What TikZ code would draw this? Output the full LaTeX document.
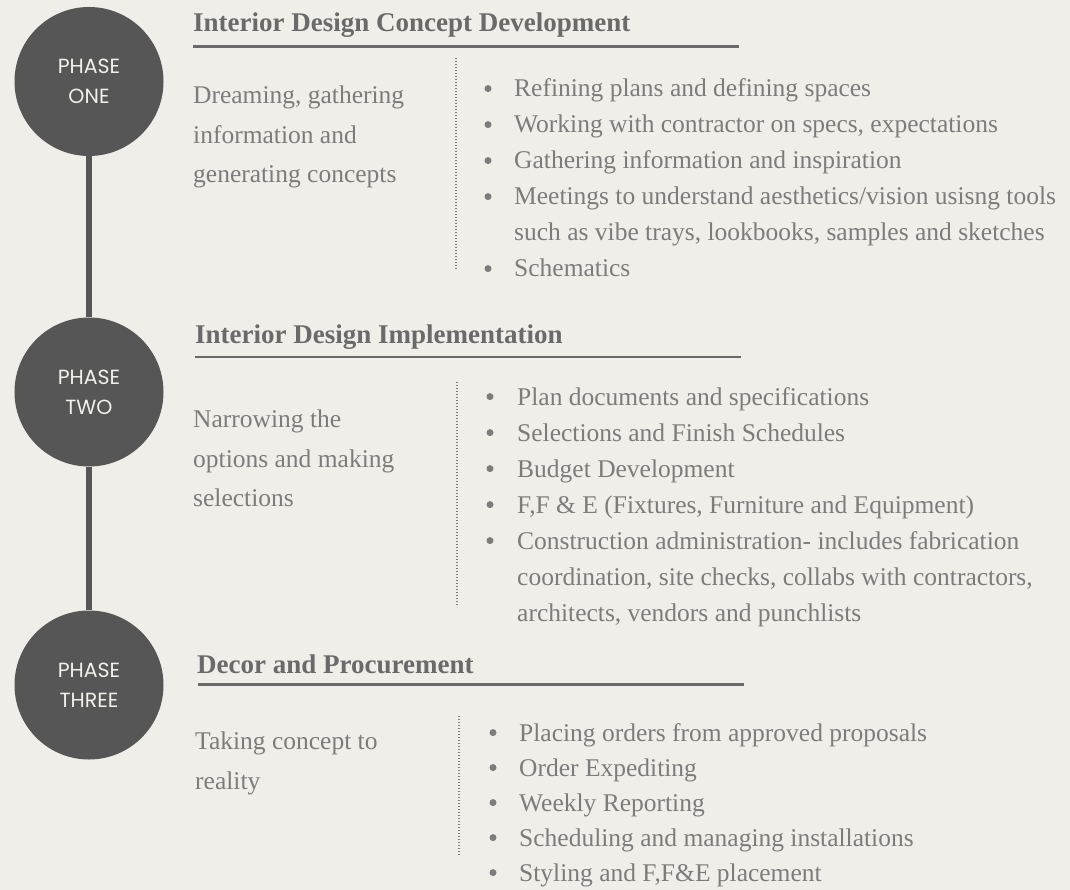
\documentclass[tikz,border=0pt]{standalone}
\usepackage{fontspec}
\setmainfont{Liberation Serif}
\newfontfamily\phasefont{Poppins}
\usetikzlibrary{positioning}

\definecolor{paper}{HTML}{EFEEE8}
\definecolor{disc}{HTML}{565656}
\definecolor{disctext}{HTML}{F1F0EB}
\definecolor{headgray}{HTML}{6A6A6A}
\definecolor{bodygray}{HTML}{7C7C7C}

\begin{document}
\begin{tikzpicture}[x=1pt, y=-1pt,
    phasedisc/.style={circle, fill=disc, minimum size=149pt, inner sep=0pt,
      text=disctext, align=center, font=\phasefont\fontsize{20.5}{30}\selectfont},
    spine/.style={draw=disc, line width=6pt},
    heading/.style={anchor=base west, inner sep=0pt, text=headgray,
      font=\bfseries\fontsize{27}{32}\selectfont},
    headrule/.style={draw=headgray, line width=2.5pt},
    summary/.style={anchor=north west, inner sep=0pt, align=left, text=bodygray,
      font=\fontsize{25.5}{39.5}\selectfont},
    bullettext/.style={anchor=base west, inner sep=0pt, text=bodygray,
      font=\fontsize{25.5}{36}\selectfont},
    bulletdot/.style={circle, fill=bodygray, inner sep=0pt, minimum size=7pt},
    divider/.style={draw=bodygray, line width=1.3pt, dash pattern=on 1.3pt off 1.7pt}]

  \useasboundingbox (0,0) rectangle (1070,890);
  \fill[paper] (0,0) rectangle (1070,890);

  % timeline
  \node[phasedisc] (p1) at (89,81.5) {PHASE\\ONE};
  \node[phasedisc] (p2) at (89,392) {PHASE\\TWO};
  \node[phasedisc] (p3) at (89,685) {PHASE\\THREE};
  \draw[spine] (p1) -- (p2);
  \draw[spine] (p2) -- (p3);

  % phase one
  \node[heading] (h1) at (193,32) {Interior Design Concept Development};
  \draw[headrule] (193,46.5) -- (739,46.5);
  \node[summary] (d1) at (193,86) {Dreaming, gathering\\information and\\generating concepts};
  \draw[divider] (456,58) -- (456,270);
  \foreach \txt/\hasdot [count=\i from 0] in {
      Refining plans and defining spaces/1,
      {Working with contractor on specs, expectations}/1,
      Gathering information and inspiration/1,
      {Meetings to understand aesthetics/vision usisng tools}/1,
      {such as vibe trays, lookbooks, samples and sketches}/0,
      Schematics/1} {
    \node[bullettext] (s1-t\i) at (514,{97+36*\i}) {\txt};
    \ifnum\hasdot=1 \node[bulletdot] (s1-d\i) at (488,{88.6+36*\i}) {};\fi
  }

  % phase two
  \node[heading] (h2) at (195,343) {Interior Design Implementation};
  \draw[headrule] (195,357) -- (741,357);
  \node[summary] (d2) at (193,410) {Narrowing the\\options and making\\selections};
  \draw[divider] (457,382) -- (457,607);
  \foreach \txt/\hasdot [count=\i from 0] in {
      Plan documents and specifications/1,
      Selections and Finish Schedules/1,
      Budget Development/1,
      {F,F \& E (Fixtures, Furniture and Equipment)}/1,
      Construction administration- includes fabrication/1,
      {coordination, site checks, collabs with contractors,}/0,
      {architects, vendors and punchlists}/0} {
    \node[bullettext] (s2-t\i) at (517,{405+36*\i}) {\txt};
    \ifnum\hasdot=1 \node[bulletdot] (s2-d\i) at (490,{396.6+36*\i}) {};\fi
  }

  % phase three
  \node[heading] (h3) at (197,673) {Decor and Procurement};
  \draw[headrule] (198,684.5) -- (744,684.5);
  \node[summary] (d3) at (195,732) {Taking concept to\\reality};
  \draw[divider] (459,716) -- (459,856);
  \foreach \txt/\hasdot [count=\i from 0] in {
      Placing orders from approved proposals/1,
      Order Expediting/1,
      Weekly Reporting/1,
      Scheduling and managing installations/1,
      {Styling and F,F\&E placement}/1} {
    \node[bullettext] (s3-t\i) at (519,{741+35*\i}) {\txt};
    \ifnum\hasdot=1 \node[bulletdot] (s3-d\i) at (493,{732.6+35*\i}) {};\fi
  }
\end{tikzpicture}
\end{document}
